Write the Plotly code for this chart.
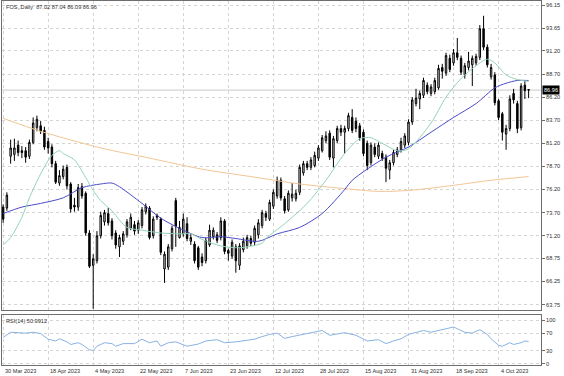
import plotly.graph_objects as go

# ---------------- data ----------------
opens = [74.3, 74.2, 79.8, 80.0, 81.0, 80.4, 80.4, 79.8, 81.3, 82.9,
         83.1, 82.6, 81.4, 80.8, 79.0, 76.9, 77.6, 78.6, 76.8, 74.5,
         74.3, 76.5, 75.8, 71.5, 68.0, 68.5, 71.2, 72.7, 73.6, 72.8,
         71.5, 70.0, 70.6, 71.3, 72.0, 72.4, 71.8, 72.3, 73.8, 74.2,
         71.2, 73.4, 73.0, 67.6, 67.8, 69.8, 75.0, 71.0, 71.4, 72.5,
         70.6, 70.3, 69.9, 68.9, 68.5, 70.2, 71.1, 71.3, 71.0, 72.8,
         69.6, 69.0, 70.0, 68.0, 69.7, 70.1, 70.9, 70.5, 71.3, 72.3,
         73.6, 73.0, 74.4, 75.5, 77.2, 75.2, 74.0, 75.3, 75.2, 75.9,
         78.0, 79.0, 78.6, 78.8, 79.6, 80.4, 81.5, 82.3, 79.6, 81.5,
         82.8, 82.4, 82.8, 84.0, 83.6, 83.1, 82.4, 81.2, 79.1, 80.8,
         79.8, 80.1, 79.7, 78.3, 79.1, 80.0, 80.5, 81.0, 81.3, 83.5,
         85.5, 86.0, 86.4, 87.5, 86.6, 86.8, 87.2, 89.4, 88.8, 90.4,
         89.9, 91.0, 90.4, 88.6, 89.4, 89.7, 89.9, 90.5, 93.6, 91.6,
         88.4, 88.6, 85.8, 84.4, 82.2, 82.8, 86.6, 85.5, 82.9, 87.5,
         87.02]
highs = [74.6, 75.9, 81.6, 81.7, 81.5, 80.9, 80.8, 81.6, 84.0, 84.2,
         83.6, 83.0, 81.8, 81.1, 79.3, 78.3, 78.8, 78.9, 77.0, 75.3,
         76.8, 76.9, 76.0, 71.8, 69.2, 71.7, 73.8, 74.0, 74.2, 73.1,
         71.8, 71.3, 71.7, 73.0, 73.6, 72.8, 72.9, 74.3, 74.7, 74.4,
         73.3, 73.6, 73.2, 69.5, 70.3, 72.3, 75.3, 72.8, 73.6, 73.2,
         71.4, 70.6, 70.1, 69.3, 71.0, 72.4, 72.1, 71.6, 73.2, 73.0,
         69.8, 70.8, 70.3, 70.4, 71.0, 71.3, 71.2, 72.3, 73.0, 74.0,
         73.9, 75.1, 76.2, 77.6, 77.5, 75.5, 76.1, 76.9, 76.2, 78.9,
         79.3, 79.3, 79.7, 80.3, 81.0, 82.1, 82.5, 82.6, 82.0, 83.1,
         83.2, 83.1, 84.5, 84.9, 84.0, 83.4, 82.7, 81.5, 81.3, 81.2,
         81.3, 80.4, 80.0, 79.4, 80.5, 80.8, 81.8, 82.3, 83.8, 86.2,
         87.1, 86.9, 88.3, 87.8, 87.6, 88.3, 89.7, 89.8, 91.0, 90.8,
         91.4, 92.6, 90.7, 89.9, 91.1, 90.7, 90.9, 94.0, 95.0, 91.9,
         89.8, 88.9, 86.0, 84.6, 83.2, 86.4, 87.1, 85.8, 87.7, 88.0,
         87.04]
lows = [72.6, 73.9, 79.0, 79.3, 79.8, 79.6, 79.1, 79.5, 81.1, 82.5,
        82.2, 80.5, 80.1, 78.6, 76.8, 76.6, 77.3, 76.2, 73.7, 73.8,
        73.9, 75.2, 71.2, 67.7, 63.3, 68.2, 70.9, 72.3, 72.3, 70.8,
        69.8, 68.9, 70.2, 71.0, 71.8, 71.3, 71.4, 72.0, 73.5, 70.8,
        70.9, 72.9, 69.1, 66.1, 67.5, 69.5, 70.0, 70.9, 71.1, 70.6,
        70.2, 68.2, 67.5, 67.9, 68.2, 70.0, 70.8, 70.4, 70.7, 69.2,
        68.5, 68.7, 67.2, 67.5, 69.4, 69.8, 70.1, 70.2, 70.9, 72.0,
        72.8, 72.8, 74.1, 75.2, 75.0, 73.6, 73.8, 74.9, 74.9, 75.6,
        77.7, 78.3, 78.3, 78.6, 79.3, 80.2, 81.2, 79.4, 78.6, 81.2,
        82.0, 80.1, 82.5, 82.3, 82.4, 81.5, 79.8, 78.3, 78.8, 79.7,
        79.5, 79.3, 77.0, 77.3, 78.8, 79.7, 80.2, 80.7, 81.0, 83.2,
        85.2, 84.9, 86.1, 86.5, 86.3, 86.5, 87.0, 88.2, 88.5, 88.9,
        89.6, 90.2, 88.6, 88.2, 89.1, 87.4, 89.6, 90.2, 91.3, 89.4,
        88.1, 85.3, 83.7, 81.5, 80.5, 82.5, 85.5, 82.3, 82.6, 86.0,
        86.09]
closes = [73.0, 75.6, 80.7, 80.7, 80.2, 80.2, 79.7, 81.3, 83.4, 83.8,
          82.5, 80.8, 80.7, 79.0, 77.0, 77.7, 78.4, 76.6, 74.1, 74.3,
          76.4, 75.5, 71.5, 67.9, 68.7, 71.2, 73.4, 73.7, 72.6, 71.2,
          70.2, 71.0, 71.4, 72.7, 73.2, 71.7, 72.6, 74.0, 74.4, 71.0,
          73.0, 73.2, 69.4, 69.2, 70.0, 72.0, 72.2, 72.1, 73.0, 70.9,
          71.0, 68.5, 67.8, 68.3, 70.7, 71.8, 71.8, 70.7, 72.8, 69.5,
          69.3, 70.5, 68.5, 70.1, 70.6, 71.0, 70.4, 72.0, 72.6, 73.7,
          73.2, 74.8, 75.9, 77.2, 75.3, 73.9, 75.8, 75.7, 75.8, 78.6,
          79.0, 78.6, 79.4, 79.9, 80.7, 81.8, 82.0, 79.7, 81.7, 82.8,
          82.4, 82.8, 84.2, 82.6, 82.8, 81.8, 80.1, 78.8, 81.0, 80.0,
          81.0, 79.6, 78.5, 79.1, 80.2, 80.5, 81.4, 82.0, 83.5, 85.9,
          86.1, 86.6, 88.0, 86.8, 87.3, 88.0, 89.3, 89.0, 90.7, 89.2,
          91.0, 90.5, 88.9, 89.6, 90.1, 90.4, 90.6, 93.6, 91.6, 89.7,
          89.4, 85.6, 84.0, 82.4, 82.8, 86.0, 85.9, 82.8, 87.4, 86.9,
          86.96]

# moving averages, read at selected bars
ma_fast_bar = [0, 2, 5, 7, 10, 13, 15, 16, 19, 22, 24, 26, 29, 31, 33, 37, 42, 47, 50, 53,
               58, 63, 69, 70, 75, 81, 86, 91, 95, 98, 101, 105, 108, 114, 118, 122, 126,
               129, 131, 134, 137, 140]
ma_fast_val = [70.2, 71.0, 73.2, 75.3, 77.9, 79.9, 80.4, 80.1, 79.4, 77.5, 76.1, 75.0, 73.9,
               72.9, 72.1, 71.8, 71.5, 71.4, 71.4, 70.8, 70.1, 69.9, 70.4, 70.9, 72.5, 74.7,
               77.2, 80.1, 81.7, 81.8, 81.2, 80.4, 80.6, 83.4, 86.2, 88.2, 89.6, 90.3, 89.9,
               88.6, 88.1, 87.9]
ma_mid_bar = [0, 5, 10, 16, 21, 26, 29, 31, 37, 42, 47, 53, 58, 62, 68, 73, 79, 85, 91, 93,
              102, 108, 114, 120, 126, 131, 134, 137, 140]
ma_mid_val = [73.6, 74.3, 74.7, 75.3, 76.4, 76.8, 76.9, 76.5, 74.7, 73.1, 72.0, 71.0, 71.1,
              70.9, 70.6, 71.4, 72.1, 73.6, 76.2, 77.2, 79.7, 80.8, 82.4, 84.0, 85.5, 87.2,
              87.7, 88.0, 88.0]
ma_slow_bar = [0, 10, 26, 39, 53, 66, 79, 91, 100, 108, 119, 130, 140]
ma_slow_val = [83.9, 82.5, 80.7, 79.6, 78.4, 77.6, 76.8, 76.3, 76.0, 76.1, 76.6, 77.2, 77.6]

rsi_bar = [0, 1, 2, 4, 6, 8, 10, 12, 14, 15, 17, 18, 20, 21, 22, 23, 24, 25, 27, 29, 30, 32,
           35, 37, 39, 41, 42, 44, 46, 47, 49, 52, 54, 57, 59, 62, 65, 67, 69, 71, 73, 75,
           77, 80, 83, 85, 87, 89, 91, 94, 96, 97, 100, 102, 104, 106, 108, 110, 112, 114,
           116, 118, 120, 121, 123, 125, 127, 129, 130, 132, 133, 135, 136, 138, 139, 140]
rsi_val = [60, 66, 72, 71, 70, 72, 69, 56, 52, 57, 50, 44, 48, 44, 38, 32, 30, 40, 48, 46,
           40, 46, 46, 56, 48, 52, 40, 48, 50, 47, 40, 45, 52, 55, 48, 50, 53, 56, 62, 67,
           70, 58, 62, 67, 72, 76, 65, 68, 71, 65, 57, 52, 55, 46, 52, 57, 67, 72, 76, 72,
           76, 80, 84, 80, 72, 70, 78, 67, 57, 42, 40, 48, 44, 48, 52, 51]

date_labels = ["30 Mar 2023", "18 Apr 2023", "4 May 2023", "22 May 2023", "7 Jun 2023",
               "23 Jun 2023", "12 Jul 2023", "28 Jul 2023", "15 Aug 2023", "31 Aug 2023",
               "18 Sep 2023", "4 Oct 2023"]
date_label_bar = [0, 12, 24, 36, 48, 60, 72, 84, 96, 108, 120, 132]
price_ticks = [96.15, 93.65, 91.20, 88.70, 86.20, 83.70, 81.20, 78.70, 76.20, 73.70,
               71.20, 68.75, 66.25, 63.75]
rsi_ticks = [100, 70, 30, 0]

symbol_text = "FOS,,Daily"
rsi_text = "RSI(14) 50.9912"

# ---------------- figure ----------------
bars = list(range(len(opens)))
FONT = "Liberation Sans"
FS = 5.6
GRID = "#d4d4d4"
FRAME = "#6e6e6e"
TXT = "#303030"

fig = go.Figure()
fig.add_trace(go.Candlestick(
    x=bars, open=opens, high=highs, low=lows, close=closes,
    increasing=dict(line=dict(color="black", width=1), fillcolor="#eeeeee"),
    decreasing=dict(line=dict(color="black", width=1), fillcolor="black"),
    whiskerwidth=0, showlegend=False, hoverinfo="skip", xaxis="x", yaxis="y"))

for bx, vy, col in [(ma_slow_bar, ma_slow_val, "#f2c594"),
                    (ma_mid_bar, ma_mid_val, "#4b4bc8"),
                    (ma_fast_bar, ma_fast_val, "#93d2b6")]:
    fig.add_trace(go.Scatter(x=bx, y=vy, mode="lines",
                             line=dict(color=col, width=1, shape="spline", smoothing=0.8),
                             showlegend=False, hoverinfo="skip", xaxis="x", yaxis="y"))

fig.add_trace(go.Scatter(x=rsi_bar, y=rsi_val, mode="lines",
                         line=dict(color="#88b2e2", width=1),
                         showlegend=False, hoverinfo="skip", xaxis="x2", yaxis="y2"))

xr = [-0.3, 143.3]
common_x = dict(range=xr, tickvals=date_label_bar, showgrid=True, gridcolor=GRID,
                griddash="dot", gridwidth=1, zeroline=False, showline=True, mirror=True,
                linecolor=FRAME, linewidth=1, fixedrange=True, automargin=False,
                showticklabels=False, ticks="")
common_y = dict(side="right", ticks="outside", ticklen=3, tickcolor=FRAME,
                showgrid=True, gridcolor=GRID, griddash="dot", zeroline=False,
                showline=True, mirror=True, linecolor=FRAME, linewidth=1,
                fixedrange=True, automargin=False, tickfont=dict(size=FS, color=TXT))

annotations = [
    dict(xref="paper", yref="paper", x=0, y=1, xanchor="left", yanchor="top",
         xshift=2, yshift=-1, showarrow=False,
         text="%s  %.2f %.2f %.2f %.2f" % (symbol_text, opens[-1], highs[-1], lows[-1], closes[-1]),
         font=dict(size=FS, color=TXT)),
    dict(xref="paper", yref="y2 domain", x=0, y=1, xanchor="left", yanchor="top",
         xshift=2, yshift=-1, showarrow=False, text=rsi_text,
         font=dict(size=FS, color=TXT)),
    dict(xref="paper", yref="y", x=1, y=closes[-1], xanchor="left", yanchor="middle",
         xshift=1, showarrow=False, text="%.2f" % closes[-1], bgcolor="black",
         font=dict(size=FS, color="white"), borderpad=1),
]
for b, lab in zip(date_label_bar, date_labels):
    annotations.append(dict(xref="x2", yref="paper", x=b, y=0, xanchor="left",
                            yanchor="top", yshift=-1, showarrow=False, text=lab,
                            font=dict(size=FS, color=TXT)))

fig.update_layout(
    width=564, height=376,
    margin=dict(l=2, r=23, t=1, b=11, autoexpand=False),
    paper_bgcolor="white", plot_bgcolor="white",
    font=dict(family=FONT, size=FS, color=TXT),
    boxgap=0.45,
    xaxis=dict(domain=[0, 1], anchor="y", rangeslider=dict(visible=False), **common_x),
    xaxis2=dict(domain=[0, 1], anchor="y2", **common_x),
    yaxis=dict(domain=[0.152, 1], range=[63.2, 96.6],
               tickvals=price_ticks, ticktext=["%.2f" % v for v in price_ticks], **common_y),
    yaxis2=dict(domain=[0, 0.138], range=[-3, 112],
                tickvals=rsi_ticks, ticktext=[str(v) for v in rsi_ticks], **common_y),
    shapes=[dict(type="line", xref="x domain", yref="y", x0=0, x1=1,
                 y0=closes[-1], y1=closes[-1], line=dict(color="#c8c8c8", width=1),
                 layer="below")],
    annotations=annotations,
)

fig.write_html("out.html", config={"displayModeBar": False},
               post_script="document.body.style.margin='0';document.body.style.overflow='hidden';")
